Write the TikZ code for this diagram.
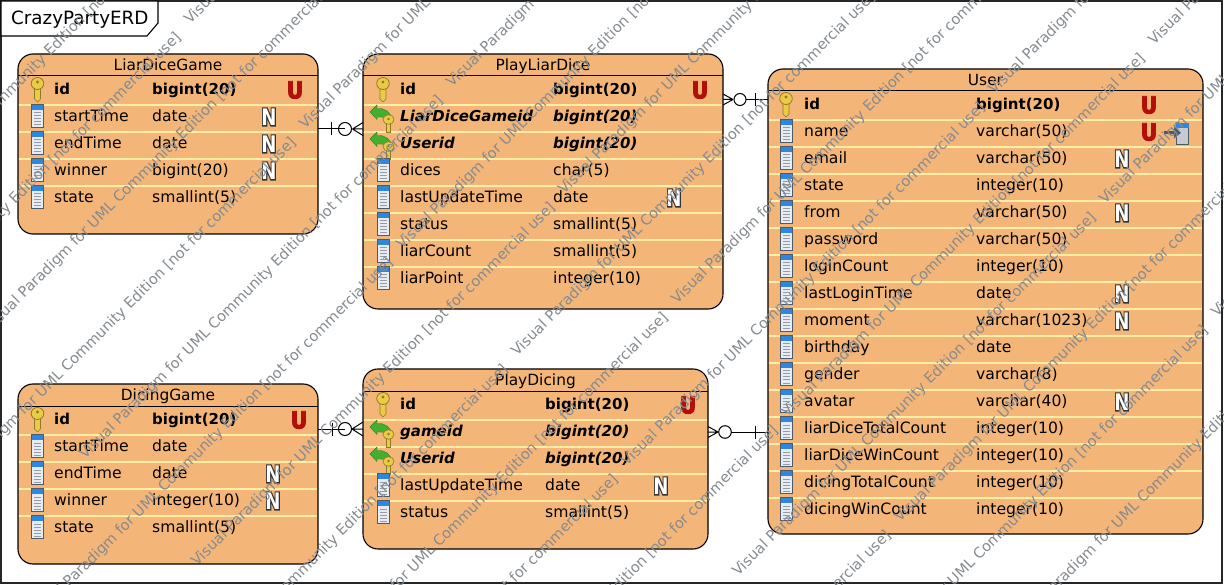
\documentclass[tikz,border=0pt]{standalone}
\usepackage{fontspec}
\setmainfont{DejaVu Sans}
\definecolor{ent}{HTML}{F4B578}
\definecolor{sep}{HTML}{FFEFA6}
\definecolor{wmc}{HTML}{858B90}
\definecolor{ured}{HTML}{B30F0B}
\definecolor{gold}{HTML}{EBCB45}
\definecolor{goldd}{HTML}{8F7A2C}
\definecolor{grn}{HTML}{46AE2F}
\definecolor{iblue}{HTML}{2F86E0}
\definecolor{ibody}{HTML}{E6ECF4}
\definecolor{idark}{HTML}{4E5A68}
\newcounter{nid}
\newcommand\outlineN{\rlap{\special{pdf:code q 2 Tr 2.2 w 0.2 G 0.2 g}N\special{pdf:code Q}}\textcolor{white}{N}}
\newcommand\outlineU{\special{pdf:code q 2 Tr 0.9 w 0.70 0.06 0.04 RG 0.70 0.06 0.04 rg}U\special{pdf:code Q}}
\tikzset{
  entity/.style={draw=black,fill=ent,line width=1.1pt,rounded corners=15pt,inner sep=0pt,outer sep=0pt,rectangle},
  hdr/.style={font=\fontsize{15.4}{18}\selectfont,inner sep=0pt,anchor=base},
  cell/.style={font=\fontsize{15.6}{18}\selectfont,inner sep=0pt,anchor=base west},
  cellb/.style={cell,font=\fontsize{15}{18}\selectfont\bfseries},
  cellf/.style={cell,font=\fontsize{15}{18}\selectfont\bfseries\itshape},
  hline/.style={line width=1pt,black},
  sepline/.style={line width=1.3pt,sep},
  conn/.style={line width=1pt,black},
  umark/.style={font=\fontsize{23}{26}\selectfont\bfseries,inner sep=0pt,xscale=.9,yscale=1.02,anchor=center},
  nmark/.style={font=\fontsize{19}{22}\selectfont\bfseries,inner sep=0pt,xscale=.95,yscale=1.2,anchor=center},
  wm/.style={font=\fontsize{14.6}{16}\selectfont,text=wmc,rotate=45,anchor=base west,inner sep=0pt},
  keyicon/.pic={
    \fill[gold,draw=goldd,line width=.6pt] (-3,-3) -- (-3,10) -- (0,13) -- (3,10) -- (3,-3) -- cycle;
    \fill[gold,draw=goldd,line width=.8pt] (0,-5.5) ellipse (6.3 and 6);
    \fill[goldd] (0,-7) circle (1.7);
  },
  colicon/.pic={
    \fill[idark] (-6.5,-12) rectangle (6.5,12);
    \fill[ibody] (-5.5,-11) rectangle (5.5,11);
    \fill[iblue] (-5.5,-11) rectangle (5.5,-6);
    \foreach \k in {-3,0,3,6,9}{\draw[line width=1pt,idark!60] (-3.5,\k) -- (3.5,\k);}
  },
  fkicon/.pic={
    \fill[grn,draw=grn!70!black,line width=.4pt] (-13,-4) -- (-6,-11) -- (-6,-7.5) .. controls (2,-8) and (8,-4) .. (9,4) .. controls (4,1) and (0,1) .. (-6,1) -- (-6,3.5) -- cycle;
    \fill[gold,draw=goldd,line width=.5pt] (3.5,4) rectangle (7.5,16);
    \fill[gold,draw=goldd,line width=.6pt] (5.5,3.5) ellipse (5.5 and 4.8);
    \fill[goldd] (5.5,3) circle (1.3);
  },
  wicon/.pic={
    \fill[idark] (-6.5,-11) rectangle (6.5,11);
    \fill[ibody!70!gray] (-5.5,-10) rectangle (5.5,10);
    \fill[iblue] (-6.5,-11) rectangle (6.5,-6);
    \fill[idark] (-18,-3) rectangle (-7,.5);
    \fill[idark] (-8,-7) -- (-1,-1.2) -- (-8,4.5) -- cycle;
  }
}
\newcommand\cols[5]{\def\xi{#1}\def\xn{#2}\def\xt{#3}\def\xN{#4}\def\xU{#5}}
\newcommand\trow[5]{%
  \stepcounter{nid}%
  \pic at (\xi,#1) {#2};
  \node[#3] (n\thenid) at (\xn,#1+5.5) {#4};
  \node[#3] (t\thenid) at (\xt,#1+5.5) {#5};
}
\newcommand\markU[1]{\stepcounter{nid}\node[umark] (u\thenid) at (\xU,#1+1) {\outlineU};}
\newcommand\markN[1]{\stepcounter{nid}\node[nmark] (m\thenid) at (\xN,#1+1) {\outlineN};}
\newcommand\seps[4]{\foreach \s in {#3}{\draw[sepline] (#1,\s) -- (#2,\s);}}
\newcommand\wmk[2]{\stepcounter{nid}\node[wm] (w\thenid) at (#1,#2) {Visual Paradigm for UML Community Edition [not for commercial use]};}
\begin{document}
\begin{tikzpicture}[x=1pt,y=-1pt]
\useasboundingbox (0,0) rectangle (1224,585);
\fill[white] (0,0) rectangle (1224,585);
\draw[line width=1.4pt,black!85] (1,1) rectangle (1222,583);
\draw[line width=1.1pt,fill=white] (1,1) -- (158,1) -- (158,23) -- (147,36) -- (1,36) -- cycle;
\node[font=\fontsize{18.3}{20}\selectfont,inner sep=0pt,anchor=base west] (title) at (11,25) {CrazyPartyERD};
\node[entity,minimum width=300pt,minimum height=180pt] (liar) at (168,144) {};
\node[entity,minimum width=360pt,minimum height=255pt] (play) at (543,181.5) {};
\node[entity,minimum width=435pt,minimum height=465pt] (user) at (985.5,301.5) {};
\node[entity,minimum width=300pt,minimum height=180pt] (dice) at (168,474) {};
\node[entity,minimum width=345pt,minimum height=180pt] (pdice) at (535.5,459) {};
\node[hdr] (liarT) at (168,70.5) {LiarDiceGame};
\node[hdr] (playT) at (543,70.5) {PlayLiarDice};
\node[hdr] (userT) at (985.5,85.5) {User};
\node[hdr] (diceT) at (168,400.5) {DicingGame};
\node[hdr] (pdiceT) at (535.5,385.5) {PlayDicing};
\draw[hline] (18,76) -- (318,76);
\draw[hline] (363,76) -- (723,76);
\draw[hline] (768,91) -- (1203,91);
\draw[hline] (18,406) -- (318,406);
\draw[hline] (363,391) -- (708,391);
\seps{18.6}{317.4}{105,132,159,186}{}
\seps{363.6}{722.4}{105,132,159,186,213,240,267}{}
\seps{768.6}{1202.4}{120,147,174,201,228,255,282,309,336,363,390,417,444,471,498}{}
\seps{18.6}{317.4}{435,462,489,516}{}
\seps{363.6}{707.4}{420,447,474,501}{}
% LiarDiceGame
\cols{37.5}{54}{152}{269}{295}
\trow{89}{keyicon}{cellb}{id}{bigint(20)}\markU{89}
\trow{116}{colicon}{cell}{startTime}{date}\markN{116}
\trow{143}{colicon}{cell}{endTime}{date}\markN{143}
\trow{170}{colicon}{cell}{winner}{bigint(20)}\markN{170}
\trow{197}{colicon}{cell}{state}{smallint(5)}
% PlayLiarDice
\cols{383}{400}{553}{674}{700}
\trow{89}{keyicon}{cellb}{id}{bigint(20)}\markU{89}
\trow{116}{fkicon}{cellf}{LiarDiceGameid}{bigint(20)}
\trow{143}{fkicon}{cellf}{Userid}{bigint(20)}
\trow{170}{colicon}{cell}{dices}{char(5)}
\trow{197}{colicon}{cell}{lastUpdateTime}{date}\markN{197}
\trow{224}{colicon}{cell}{status}{smallint(5)}
\trow{251}{colicon}{cell}{liarCount}{smallint(5)}
\trow{278}{colicon}{cell}{liarPoint}{integer(10)}
% User
\cols{786}{804}{976}{1122}{1149}
\trow{104}{keyicon}{cellb}{id}{bigint(20)}\markU{104}
\trow{131}{colicon}{cell}{name}{varchar(50)}\markU{131}
\pic at (1182,134) {wicon};
\trow{158}{colicon}{cell}{email}{varchar(50)}\markN{158}
\trow{185}{colicon}{cell}{state}{integer(10)}
\trow{212}{colicon}{cell}{from}{varchar(50)}\markN{212}
\trow{239}{colicon}{cell}{password}{varchar(50)}
\trow{266}{colicon}{cell}{loginCount}{integer(10)}
\trow{293}{colicon}{cell}{lastLoginTime}{date}\markN{293}
\trow{320}{colicon}{cell}{moment}{varchar(1023)}\markN{320}
\trow{347}{colicon}{cell}{birthday}{date}
\trow{374}{colicon}{cell}{gender}{varchar(8)}
\trow{401}{colicon}{cell}{avatar}{varchar(40)}\markN{401}
\trow{428}{colicon}{cell}{liarDiceTotalCount}{integer(10)}
\trow{455}{colicon}{cell}{liarDiceWinCount}{integer(10)}
\trow{482}{colicon}{cell}{dicingTotalCount}{integer(10)}
\trow{509}{colicon}{cell}{dicingWinCount}{integer(10)}
% DicingGame
\cols{37.5}{54}{152}{273}{299}
\trow{419}{keyicon}{cellb}{id}{bigint(20)}\markU{419}
\trow{446}{colicon}{cell}{startTime}{date}
\trow{473}{colicon}{cell}{endTime}{date}\markN{473}
\trow{500}{colicon}{cell}{winner}{integer(10)}\markN{500}
\trow{527}{colicon}{cell}{state}{smallint(5)}
% PlayDicing
\cols{383}{400}{545}{661}{688}
\trow{404}{keyicon}{cellb}{id}{bigint(20)}\markU{404}
\trow{431}{fkicon}{cellf}{gameid}{bigint(20)}
\trow{458}{fkicon}{cellf}{Userid}{bigint(20)}
\trow{485}{colicon}{cell}{lastUpdateTime}{date}\markN{485}
\trow{512}{colicon}{cell}{status}{smallint(5)}
% connectors
\coordinate (c1a) at ([yshift=15pt]liar.east);
\coordinate (c1b) at ([yshift=52.5pt]play.west);
\draw[conn] (c1a) -- ++(27,0) (c1a) ++(13.5,-6.5) -- ++(0,13);
\draw[conn] (c1a) ++(27,0) circle (6.5);
\draw[conn] (c1b) ++(-10.5,0) -- ++(10.5,-6.5) (c1b) ++(-10.5,0) -- (c1b) (c1b) ++(-10.5,0) -- ++(10.5,6.5);
\coordinate (c2a) at ([yshift=82pt]play.east);
\coordinate (c2b) at ([yshift=202pt]user.west);
\draw[conn] (c2a) ++(10,0) -- ++(-10,-5.5) (c2a) ++(10,0) -- (c2a) (c2a) ++(10,0) -- ++(-10,5.5);
\draw[conn] (c2a) ++(17,0) circle (6);
\draw[conn] (c2b) -- ++(-22,0) (c2b) ++(-13,-6.5) -- ++(0,13);
\coordinate (c3a) at ([yshift=45pt]dice.east);
\coordinate (c3b) at ([yshift=30pt]pdice.west);
\draw[conn] (c3a) -- ++(27,0) (c3a) ++(14,-6.5) -- ++(0,13);
\draw[conn] (c3a) ++(27,0) circle (6.5);
\draw[conn] (c3b) ++(-11,0) -- ++(11,-7) (c3b) ++(-11,0) -- (c3b) (c3b) ++(-11,0) -- ++(11,7);
\coordinate (c4a) at ([yshift=27pt]pdice.east);
\coordinate (c4b) at ([yshift=-130.5pt]user.west);
\draw[conn] (c4a) ++(10,0) -- ++(-10,-5.5) (c4a) ++(10,0) -- (c4a) (c4a) ++(10,0) -- ++(-10,5.5);
\draw[conn] (c4a) ++(17,0) circle (6.3);
\draw[conn] (c4b) -- ++(-37,0) (c4b) ++(-13,-6.5) -- ++(0,13);
% watermark
\wmk{-142}{249}
\wmk{190}{25}\wmk{-177}{397}
\wmk{-10}{333}
\wmk{305}{130}\wmk{-62}{502}
\wmk{85}{460}\wmk{452}{88}
\wmk{35}{622}\wmk{402}{250}
\wmk{197}{567}\wmk{564}{195}
\wmk{517}{357}\wmk{150}{729}
\wmk{677}{305}\wmk{310}{677}
\wmk{627}{467}\wmk{994}{95}\wmk{260}{839}
\wmk{420}{790}\wmk{787}{418}\wmk{1154}{46}
\wmk{738}{577}\wmk{1105}{205}
\wmk{900}{523}\wmk{533}{895}
\wmk{850}{690}\wmk{1217}{318}
\wmk{1014}{633}
\end{tikzpicture}
\end{document}
